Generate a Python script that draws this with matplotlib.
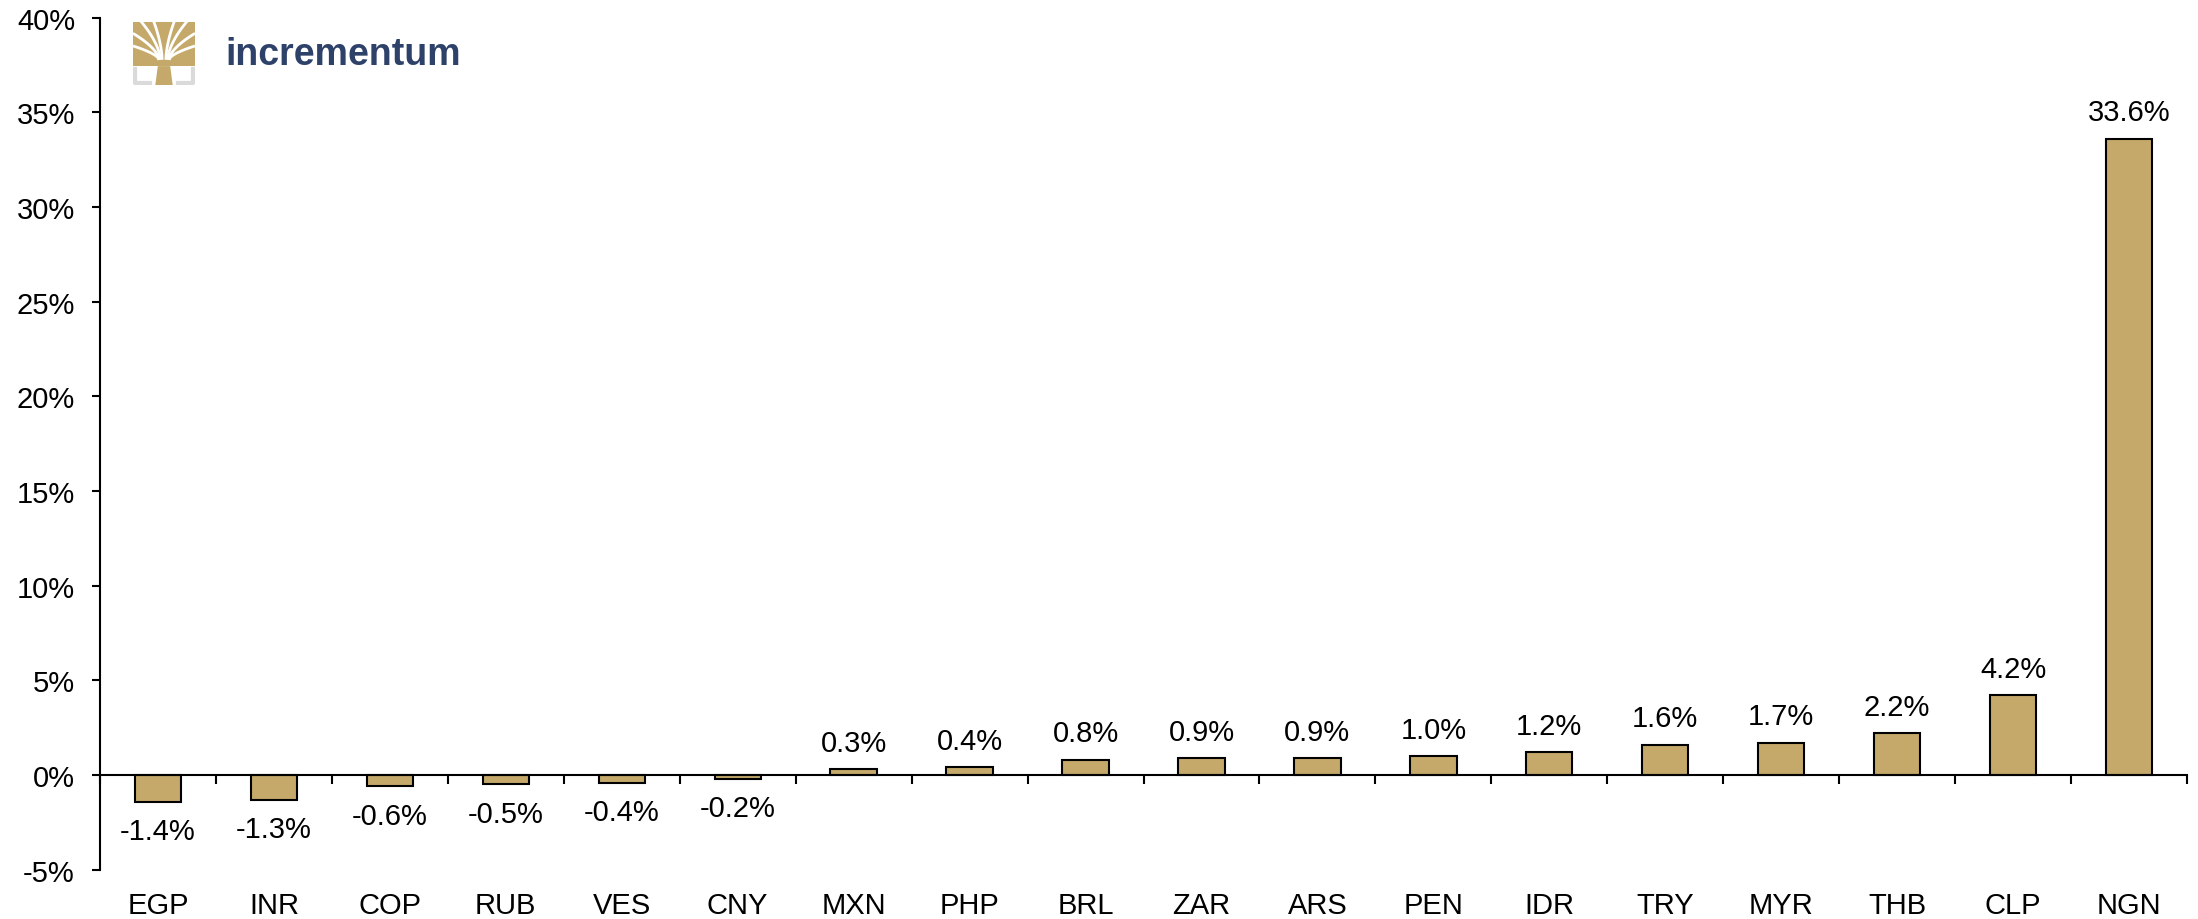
import matplotlib.pyplot as plt
import numpy as np
from matplotlib.patches import Polygon, Rectangle

plt.rcParams['font.family'] = ['Liberation Sans', 'DejaVu Sans']

currencies = ["EGP", "INR", "COP", "RUB", "VES", "CNY", "MXN", "PHP", "BRL",
              "ZAR", "ARS", "PEN", "IDR", "TRY", "MYR", "THB", "CLP", "NGN"]
changes = [-1.4, -1.3, -0.6, -0.5, -0.4, -0.2, 0.3, 0.4, 0.8,
           0.9, 0.9, 1.0, 1.2, 1.6, 1.7, 2.2, 4.2, 33.6]

gold = "#C4A96B"
navy = "#2D4169"

fig = plt.figure(figsize=(21.98, 9.2), dpi=100)
ax = fig.add_axes([100 / 2198, 1 - 870.7 / 920, (2187 - 100) / 2198, (870.7 - 18.6) / 920])

x = np.arange(len(currencies))
ax.bar(x, changes, width=0.4, color=gold, edgecolor="black", linewidth=1.5, zorder=2)

# value labels above / below bars
for xi, v in zip(x, changes):
    off = 19 if v >= 0 else -21
    ax.annotate(f"{v:.1f}%", (xi, v), xytext=(0, off), textcoords="offset points",
                ha="center", va="center", fontsize=21)

ax.set_xlim(-0.5, len(currencies) - 0.5)
ax.set_ylim(-5, 40)
ax.set_yticks(np.arange(-5, 41, 5))
ax.set_yticklabels([f"{t}%" for t in range(-5, 41, 5)])
ax.tick_params(axis="y", direction="out", length=6, width=1.5, pad=12, labelsize=21)

# x axis sits at zero, ticks between categories
ax.spines["bottom"].set_position(("data", 0))
ax.spines["bottom"].set_linewidth(1.5)
ax.spines["left"].set_linewidth(1.5)
ax.spines["top"].set_visible(False)
ax.spines["right"].set_visible(False)
ax.set_xticks(np.arange(-0.5, len(currencies), 1.0))
ax.set_xticklabels([])
ax.tick_params(axis="x", direction="out", length=6.5, width=1.5)

# category labels at the bottom of the chart
for xi, c in zip(x, currencies):
    ax.text(xi, -0.0415, c, transform=ax.get_xaxis_transform(),
            ha="center", va="center", fontsize=21)

# logo
lax = fig.add_axes([133 / 2198, 1 - 86 / 920, 62 / 2198, 63 / 920])
lax.set_xlim(0, 1)
lax.set_ylim(0, 1)
lax.axis("off")
lax.add_patch(Rectangle((0, 0.3), 1, 0.7, color=gold, lw=0))
lax.add_patch(Polygon([[0.36, 0.0], [0.64, 0.0], [0.6, 0.3], [0.56, 0.42],
                       [0.44, 0.42], [0.4, 0.3]], color=gold, lw=0))
t = np.linspace(0, 1, 30)
for sx, ex, ey in [(0.42, 0.0, 0.62), (0.42, 0.0, 0.82), (0.44, 0.12, 1.02),
                   (0.47, 0.33, 1.02), (0.53, 0.67, 1.02), (0.56, 0.88, 1.02),
                   (0.58, 1.0, 0.82), (0.58, 1.0, 0.62)]:
    xs = sx + (ex - sx) * t
    ys = 0.4 + (ey - 0.4) * t ** 0.6
    lax.plot(xs, ys, color="white", lw=2.0, solid_capstyle="butt")
lax.add_patch(Rectangle((0, 0), 1, 0.3, color="white", lw=0, zorder=1))
lax.add_patch(Polygon([[0.36, 0.0], [0.64, 0.0], [0.6, 0.3], [0.4, 0.3]],
                      color=gold, lw=0, zorder=3))
lax.plot([0.03, 0.03, 0.28], [0.25, 0.03, 0.03], color="#DADADA", lw=3, zorder=2)
lax.plot([0.72, 0.97, 0.97], [0.03, 0.03, 0.25], color="#DADADA", lw=3, zorder=2)

fig.text(225 / 2198, 1 - 55 / 920, "incrementum", color=navy, fontsize=27,
         fontweight="bold", ha="left", va="center")

fig.savefig("out.png", dpi=100)
